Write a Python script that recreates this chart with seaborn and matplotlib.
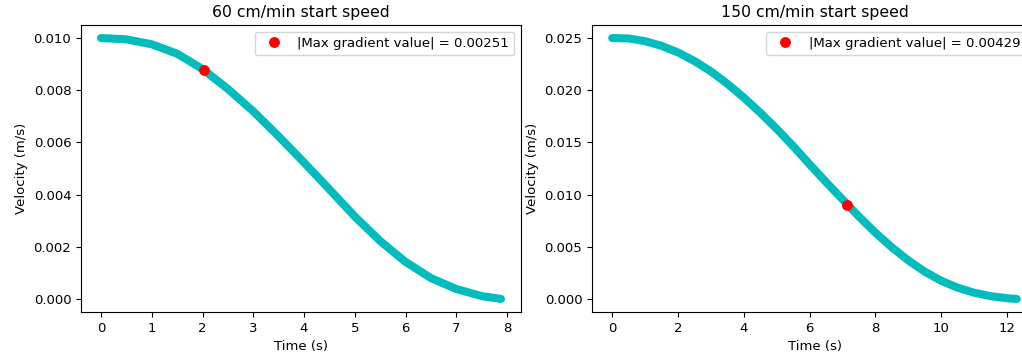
import matplotlib
matplotlib.use("Agg")
import matplotlib.pyplot as plt
import seaborn as sns
import pandas as pd

# ---- data ----
t_60 = [0.0, 0.5, 1.0, 1.5, 2.0, 2.5, 3.0, 3.5, 4.0, 4.5, 5.0, 5.5, 6.0, 6.5, 7.0, 7.5, 7.88]
v_60 = [0.01000, 0.00995, 0.00976, 0.00940, 0.00881, 0.00805, 0.00719, 0.00623, 0.00523,
        0.00420, 0.00316, 0.00222, 0.00142, 0.00080, 0.00038, 0.00011, 0.00000]
max_pt_60 = (2.02, 0.00876)
max_label_60 = "|Max gradient value| = 0.00251"

t_150 = [0.0, 0.5, 1.0, 1.5, 2.0, 2.5, 3.0, 3.5, 4.0, 4.5, 5.0, 5.5, 6.0, 6.5, 7.0, 7.5,
         8.0, 8.5, 9.0, 9.5, 10.0, 10.5, 11.0, 11.5, 12.0, 12.3]
v_150 = [0.02500, 0.02496, 0.02470, 0.02425, 0.02362, 0.02280, 0.02180, 0.02062, 0.01930,
         0.01785, 0.01630, 0.01465, 0.01290, 0.01120, 0.00955, 0.00790, 0.00635, 0.00495,
         0.00370, 0.00262, 0.00175, 0.00108, 0.00060, 0.00027, 0.00007, 0.00000]
max_pt_150 = (7.15, 0.00904)
max_label_150 = "|Max gradient value| = 0.00429"

titles = ["60 cm/min start speed", "150 cm/min start speed"]
xticks = [list(range(0, 9, 1)), list(range(0, 13, 2))]
yticks = [[0.000, 0.002, 0.004, 0.006, 0.008, 0.010],
          [0.000, 0.005, 0.010, 0.015, 0.020, 0.025]]

W, H = 1022, 355
fig = plt.figure(figsize=(W / 100, H / 100), dpi=100)
ax1 = fig.add_axes([81 / W, (H - 312) / H, 440 / W, 287 / H])
ax2 = fig.add_axes([592 / W, (H - 312) / H, 445 / W, 287 / H])

sets = [(ax1, t_60, v_60, max_pt_60, max_label_60, (1.0, 1.0)),
        (ax2, t_150, v_150, max_pt_150, max_label_150, (1.0 - 5 / 445, 1.0))]

FS = 9.5
for i, (ax, t, v, mp, lab, anchor) in enumerate(sets):
    df = pd.DataFrame({"Time (s)": t, "Velocity (m/s)": v})
    sns.lineplot(data=df, x="Time (s)", y="Velocity (m/s)", ax=ax, color="#00bcbc",
                 linewidth=5.8, solid_capstyle="round", solid_joinstyle="round",
                 legend=False)
    ax.plot([mp[0]], [mp[1]], "o", color="red", markersize=6.8, label=lab, zorder=5)
    ax.set_title(titles[i], fontsize=11.3)
    ax.set_xlabel("Time (s)", fontsize=FS)
    ax.set_ylabel("Velocity (m/s)", fontsize=FS)
    ax.set_xticks(xticks[i])
    ax.set_yticks(yticks[i])
    ax.set_yticklabels([f"{y:.3f}" for y in yticks[i]])
    ax.tick_params(labelsize=FS)
    ax.margins(x=0.05, y=0.05)
    ax.legend(loc="upper right", bbox_to_anchor=anchor, fontsize=FS)

fig.savefig("out.png", dpi=100)
